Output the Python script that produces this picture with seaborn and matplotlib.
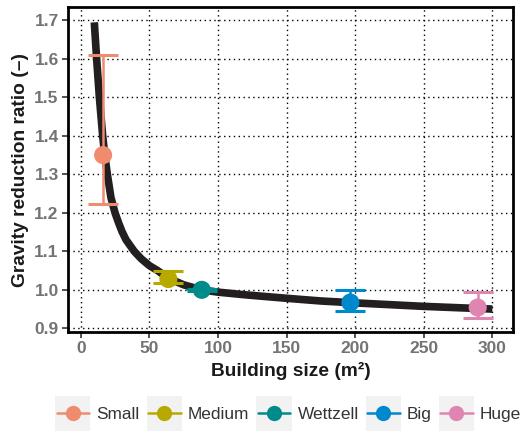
import matplotlib
matplotlib.use("Agg")
import matplotlib.pyplot as plt
from matplotlib.lines import Line2D
from matplotlib.patches import Rectangle
from matplotlib.legend_handler import HandlerBase
import seaborn as sns
import pandas as pd

# Data
categories = ["Small", "Medium", "Wettzell", "Big", "Huge"]
building_size = [16.3, 63.9, 88.2, 196.5, 289.3]
ratio = [1.35, 1.028, 1.0, 0.967, 0.954]
ratio_low = [1.224, 1.019, 0.998, 0.945, 0.927]
ratio_high = [1.610, 1.049, 1.002, 0.9995, 0.995]
colors = ["#F08C6E", "#B8A900", "#008B8B", "#0088CC", "#DE85B1"]

curve_x = [9.9, 11.6, 13.6, 16.0, 17.5, 19.4, 22.0, 25.0, 27.5, 30.0, 33.0,
           39.0, 44.0, 50.0, 56.0, 64.0, 75.0, 88.0, 100.0, 120.0, 150.0,
           175.0, 200.0, 250.0, 300.0]
curve_y = [1.695, 1.60, 1.50, 1.40, 1.35, 1.30, 1.24, 1.20, 1.175, 1.152, 1.13,
           1.10, 1.081, 1.063, 1.05, 1.03, 1.013, 1.0, 0.994, 0.987, 0.978,
           0.971, 0.966, 0.957, 0.95]

x_ticks = [0, 50, 100, 150, 200, 250, 300]
y_ticks = [0.9, 1.0, 1.1, 1.2, 1.3, 1.4, 1.5, 1.6, 1.7]

sns.set_theme(style="white")
plt.rcParams["font.family"] = ["Liberation Sans", "DejaVu Sans"]

fig = plt.figure(figsize=(5.26, 4.32), dpi=100)
ax = fig.add_axes([0.13, 0.232, 0.845, 0.751])

curve = pd.DataFrame({"x": curve_x, "y": curve_y})
sns.lineplot(data=curve, x="x", y="y", ax=ax, color="#231F20", linewidth=5.5,
             sort=False, zorder=2, solid_capstyle="butt", solid_joinstyle="round")

pts = pd.DataFrame({"cat": categories, "size": building_size, "ratio": ratio,
                    "lo": ratio_low, "hi": ratio_high})
for i, row in pts.iterrows():
    ax.errorbar(row["size"], row["ratio"],
                yerr=[[row["ratio"] - row["lo"]], [row["hi"] - row["ratio"]]],
                fmt="none", ecolor=colors[i], elinewidth=1.8, capsize=10.8,
                capthick=2.2, zorder=3)

sns.scatterplot(data=pts, x="size", y="ratio", hue="cat", palette=colors,
                hue_order=categories, s=170, edgecolor="none", ax=ax,
                legend=False, zorder=4)

ax.set_xlim(-9.0, 314.9)
ax.set_ylim(0.891, 1.734)
ax.set_xticks(x_ticks)
ax.set_yticks(y_ticks)
ax.set_xticklabels([str(v) for v in x_ticks])
ax.set_yticklabels([f"{v:.1f}" for v in y_ticks])

ax.grid(True, color="black", linestyle=(0, (1, 2.5)), linewidth=1.0)
ax.set_axisbelow(True)
for sp in ax.spines.values():
    sp.set_color("black")
    sp.set_linewidth(2.0)

ax.tick_params(axis="both", which="major", length=4, width=1.3, color="#444444",
               labelsize=12.5, labelcolor="#737373", pad=3, left=True, bottom=True)
for lab in ax.get_xticklabels() + ax.get_yticklabels():
    lab.set_fontweight("bold")

ax.set_xlabel("Building size (m²)", fontsize=13.8, fontweight="bold", color="#1a1a1a", labelpad=4)
ax.set_ylabel("Gravity reduction ratio (–)", fontsize=13.8, fontweight="bold", color="#1a1a1a", labelpad=4)


class KeyHandler(HandlerBase):
    def __init__(self, color):
        super().__init__()
        self.color = color

    def create_artists(self, legend, orig_handle, xdescent, ydescent, width,
                       height, fontsize, trans):
        side = width
        x0 = -xdescent
        y0 = -ydescent + height / 2 - side / 2
        bg = Rectangle((x0, y0), side, side, facecolor="#F2F2F2",
                       edgecolor="none", transform=trans)
        ym = y0 + side / 2
        ln = Line2D([x0 + 1, x0 + side - 1], [ym, ym], color=self.color,
                    linewidth=1.8, transform=trans)
        mk = Line2D([x0 + side / 2], [ym], color=self.color, marker="o",
                    markersize=11, markeredgewidth=0, linestyle="none",
                    transform=trans)
        return [bg, ln, mk]


handles = [Line2D([0], [0]) for _ in colors]
hmap = {h: KeyHandler(c) for h, c in zip(handles, colors)}
leg = fig.legend(handles, categories, handler_map=hmap,
                 loc="center", bbox_to_anchor=(0.548, 0.042), ncol=5, frameon=False,
                 fontsize=12.4, handlelength=2.05, handleheight=1.0,
                 handletextpad=0.35, columnspacing=0.4, borderpad=0.0)
for t in leg.get_texts():
    t.set_color("#333333")

fig.savefig("out.png", dpi=100)
